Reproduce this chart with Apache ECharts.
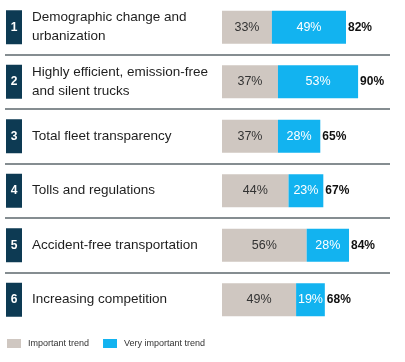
<!DOCTYPE html>
<html>
<head>
<meta charset="utf-8">
<script src="https://cdn.jsdelivr.net/npm/echarts@6/dist/echarts.min.js"></script>
<style>
html,body{margin:0;padding:0;background:#fff;}
#chart{width:405px;height:362px;}
</style>
</head>
<body>
<div id="chart"></div>
<script>
var ranks = ['1', '2', '3', '4', '5', '6'];
var categories = [
  'Demographic change and\nurbanization',
  'Highly efficient, emission-free\nand silent trucks',
  'Total fleet transparency',
  'Tolls and regulations',
  'Accident-free transportation',
  'Increasing competition'
];
var importantTrend = [33, 37, 37, 44, 56, 49];
var veryImportantTrend = [49, 53, 28, 23, 28, 19];
var totals = [82, 90, 65, 67, 84, 68];
var seriesNames = ['Important trend', 'Very important trend'];

var FONT = "Arial, 'Liberation Sans', sans-serif";
var GRAY = '#cfc7c1';
var BLUE = '#12b3f0';
var NAVY = '#0d3a53';

var chart = echarts.init(document.getElementById('chart'), null, {renderer: 'canvas'});
chart.setOption({
  animation: false,
  backgroundColor: '#ffffff',
  textStyle: {fontFamily: FONT},
  grid: {left: 5, right: 15, top: -3.5, bottom: 35, containLabel: false},
  legend: {
    data: seriesNames,
    left: 7,
    top: 339,
    padding: 0,
    icon: 'rect',
    itemWidth: 14,
    itemHeight: 9,
    itemGap: 14,
    selectedMode: false,
    textStyle: {fontSize: 9, color: '#333', fontFamily: FONT, padding: [0, 0, 0, 2]}
  },
  xAxis: {
    type: 'value',
    min: -143.5,
    max: 111.1,
    show: false
  },
  yAxis: [
    {
      type: 'category',
      data: categories,
      inverse: true,
      position: 'left',
      axisLine: {show: false},
      axisTick: {show: false},
      splitLine: {
        show: true,
        showMinLine: false,
        showMaxLine: false,
        lineStyle: {color: '#5c676d', width: 1.5}
      },
      axisLabel: {
        align: 'left',
        margin: -1,
        formatter: function (v, i) { return '{b|' + ranks[i] + '}'; },
        rich: {
          b: {
            backgroundColor: NAVY,
            color: '#fff',
            width: 16,
            height: 34,
            lineHeight: 34,
            align: 'center',
            fontWeight: 'bold',
            fontSize: 12,
            fontFamily: FONT
          }
        }
      }
    },
    {
      type: 'category',
      data: categories,
      inverse: true,
      position: 'left',
      axisLine: {show: false},
      axisTick: {show: false},
      splitLine: {show: false},
      axisLabel: {
        align: 'left',
        margin: -27,
        fontSize: 13.5,
        lineHeight: 19,
        color: '#1e1e1e',
        fontFamily: FONT
      }
    }
  ],
  series: [
    {
      name: seriesNames[0],
      type: 'bar',
      stack: 'a',
      barWidth: 33,
      barGap: '-100%',
      data: importantTrend,
      itemStyle: {color: GRAY},
      label: {show: true, position: 'inside', formatter: '{c}%', color: '#333', fontSize: 12.5, fontFamily: FONT}
    },
    {
      name: seriesNames[1],
      type: 'bar',
      stack: 'a',
      barWidth: 33,
      barGap: '-100%',
      data: veryImportantTrend,
      itemStyle: {color: BLUE},
      label: {show: true, position: 'inside', formatter: '{c}%', color: '#fff', fontSize: 12.5, fontFamily: FONT}
    },
    {
      name: 'Total',
      type: 'bar',
      barWidth: 33,
      barGap: '-100%',
      data: totals,
      silent: true,
      itemStyle: {color: 'rgba(0,0,0,0)'},
      label: {show: true, position: 'right', distance: 2, formatter: '{c}%', color: '#111', fontSize: 12, fontWeight: 'bold', fontFamily: FONT}
    }
  ]
});
</script>
</body>
</html>
